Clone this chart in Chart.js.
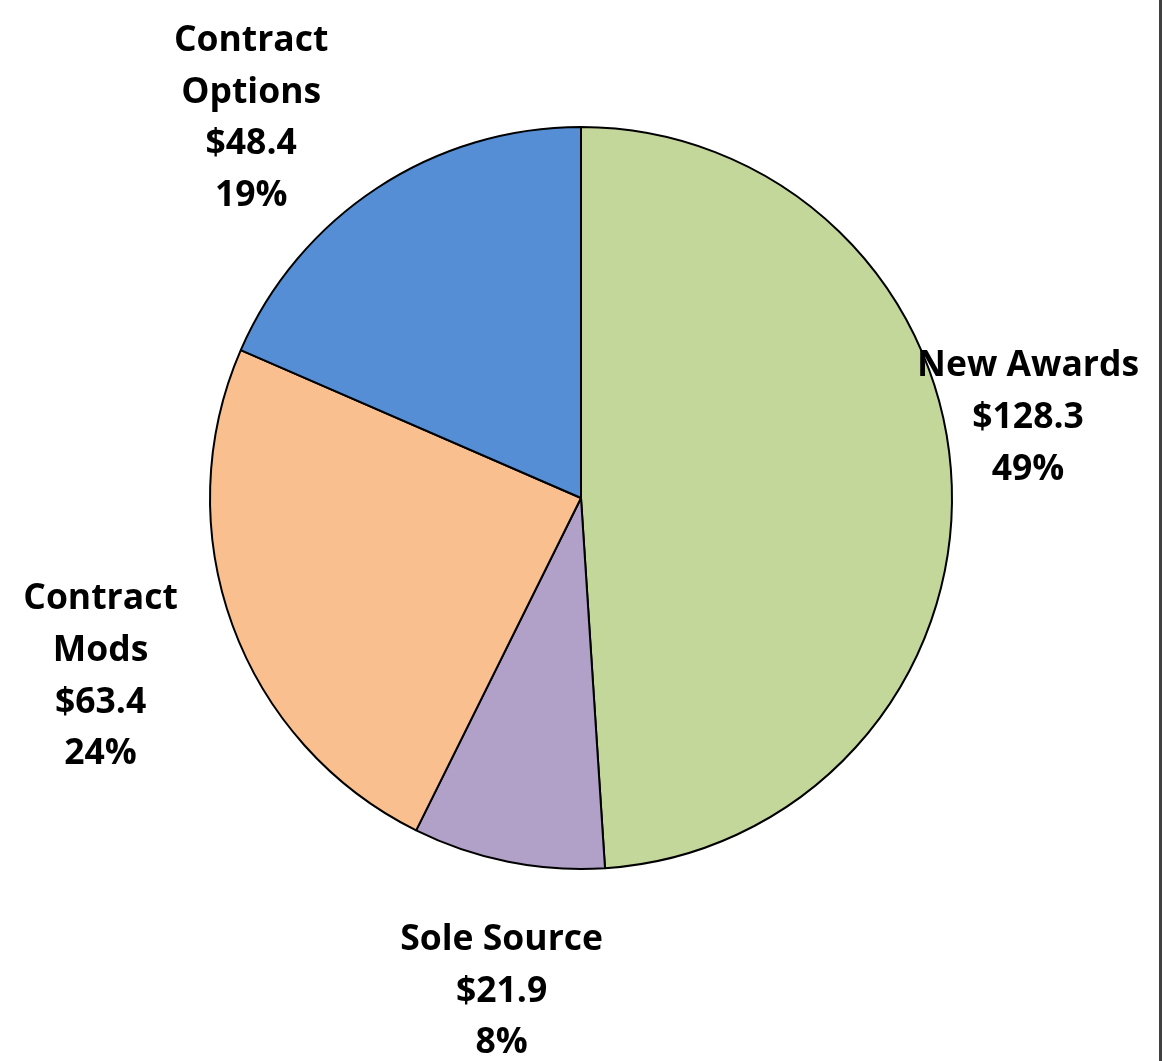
<!DOCTYPE html>
<html lang="en">
<head>
  <meta charset="UTF-8">
  <title>Contract dollars by type</title>
  <script src="https://cdn.jsdelivr.net/npm/chart.js"></script>
  <style>
    html, body { margin: 0; padding: 0; background: #fff; }
    #wrap { width: 1162px; height: 1061px; }
  </style>
</head>
<body>
<div id="wrap"><canvas id="pieChart" width="1162" height="1061"></canvas></div>

<script>
  // data
  const categories = ['New Awards', 'Sole Source', 'Contract Mods', 'Contract Options'];
  const labelLines = [['New Awards'], ['Sole Source'], ['Contract', 'Mods'], ['Contract', 'Options']];
  const amounts = [128.3, 21.9, 63.4, 48.4];
  const percents = ['49%', '8%', '24%', '19%'];
  const colors = ['#C4D79B', '#B1A0C7', '#FABF8F', '#558ED5'];

  // label block centre, relative to pie centre, in units of the radius
  const labelOffsets = [[1.205, -0.216], [-0.214, 1.33], [-1.295, 0.482], [-0.889, -1.023]];

  const pieLabels = {
    id: 'pieLabels',
    afterDraw(chart) {
      const ctx = chart.ctx;
      const meta = chart.getDatasetMeta(0);
      const arc0 = meta.data[0];
      const cx = arc0.x, cy = arc0.y, r = arc0.outerRadius;
      const lineH = 51.7;
      ctx.save();
      ctx.fillStyle = '#000';
      ctx.font = 'bold 35.5px "Open Sans", sans-serif';
      ctx.textAlign = 'center';
      ctx.textBaseline = 'middle';
      meta.data.forEach((arc, i) => {
        const lines = labelLines[i].concat(['$' + amounts[i].toFixed(1), percents[i]]);
        const bx = cx + labelOffsets[i][0] * r;
        const by = cy + labelOffsets[i][1] * r;
        const top = by - (lines.length - 1) * lineH / 2;
        lines.forEach((t, k) => ctx.fillText(t, bx, top + k * lineH));
      });
      // frame edge on the right
      ctx.strokeStyle = '#404040';
      ctx.lineWidth = 3;
      ctx.beginPath();
      ctx.moveTo(chart.width - 1.5, 0);
      ctx.lineTo(chart.width - 1.5, chart.height);
      ctx.stroke();
      ctx.restore();
    }
  };

  new Chart(document.getElementById('pieChart'), {
    type: 'pie',
    data: {
      labels: categories,
      datasets: [{
        data: amounts,
        backgroundColor: colors,
        borderColor: '#000',
        borderWidth: 2
      }]
    },
    options: {
      responsive: false,
      animation: false,
      layout: { padding: { top: 126, bottom: 191, left: 200, right: 200 } },
      plugins: {
        legend: { display: false },
        tooltip: { enabled: false }
      }
    },
    plugins: [pieLabels]
  });
</script>
</body>
</html>
